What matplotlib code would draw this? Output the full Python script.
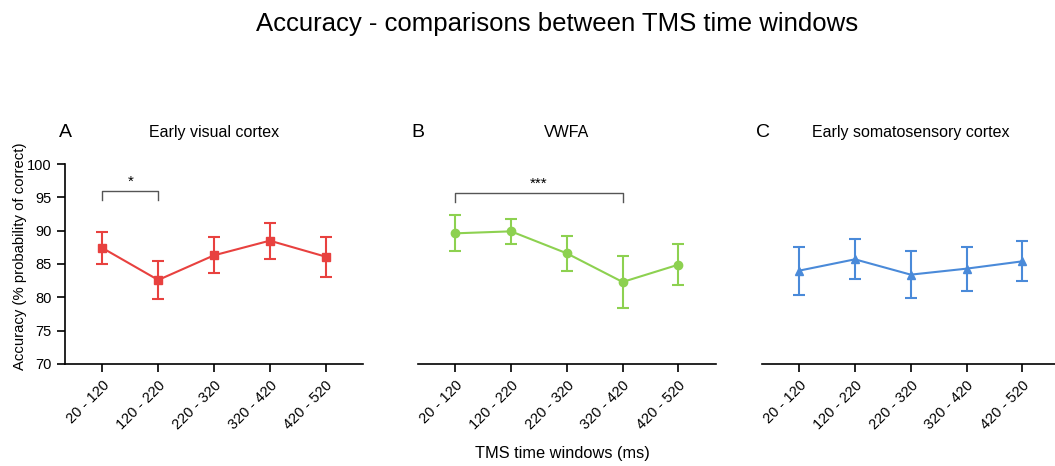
import matplotlib
matplotlib.use('Agg')
import matplotlib.pyplot as plt
import numpy as np

plt.rcParams['font.family'] = ['Liberation Sans', 'DejaVu Sans']

windows = ['20 - 120', '120 - 220', '220 - 320', '320 - 420', '420 - 520']
regions = ['Early visual cortex', 'VWFA', 'Early somatosensory cortex']
letters = ['A', 'B', 'C']

evc_mean = [87.4, 82.6, 86.3, 88.5, 86.1]
evc_err = [2.4, 2.8, 2.7, 2.7, 3.0]
vwfa_mean = [89.6, 89.9, 86.6, 82.3, 84.9]
vwfa_err = [2.7, 1.9, 2.6, 3.9, 3.1]
esc_mean = [84.0, 85.7, 83.4, 84.3, 85.4]
esc_err = [3.6, 3.0, 3.5, 3.3, 3.0]

means = [evc_mean, vwfa_mean, esc_mean]
errs = [evc_err, vwfa_err, esc_err]
colors = ['#e8413f', '#8dd150', '#4a8ad9']
markers = ['s', 'o', '^']

# significance: (panel, from, to, y, label)
sig = [(0, 0, 1, 95.95, '*'), (1, 0, 3, 95.7, '***')]

fig = plt.figure(figsize=(10.55, 4.66), dpi=100)
lefts = [0.0616, 0.396, 0.722]
axes = []
for i in range(3):
    ax = fig.add_axes([lefts[i], 0.219, 0.2825, 0.429])
    x = np.arange(len(windows))
    ax.errorbar(x, means[i], yerr=errs[i], color=colors[i], marker=markers[i],
                markersize=6, lw=1.5, capsize=4, capthick=1.5, elinewidth=1.5)
    ax.set_xlim(-0.67, 4.67)
    ax.set_ylim(70, 100)
    ax.set_xticks(x)
    ax.set_xticklabels(windows, rotation=45, ha='right', rotation_mode='anchor', fontsize=10.5)
    for s in ['top', 'right']:
        ax.spines[s].set_visible(False)
    ax.spines['bottom'].set_linewidth(1.2)
    ax.tick_params(axis='x', length=6, width=1.2, pad=4)
    if i == 0:
        ax.spines['left'].set_linewidth(1.2)
        ax.set_yticks(np.arange(70, 101, 5))
        ax.tick_params(axis='y', length=6, width=1.2, labelsize=10.5)
    else:
        ax.spines['left'].set_visible(False)
        ax.set_yticks([])
    ax.text(-0.02, 1.16, letters[i], transform=ax.transAxes, fontsize=14, ha='left', va='center')
    ax.text(0.5, 1.16, regions[i], transform=ax.transAxes, fontsize=11.5, ha='center', va='center')
    ax.patch.set_alpha(0)
    axes.append(ax)

for p, a, b, y, lab in sig:
    ax = axes[p]
    ax.plot([a, a, b, b], [y - 1.35, y, y, y - 1.35], color='#555555', lw=1, clip_on=False)
    ax.text((a + b) / 2, y + 0.3, lab, ha='center', va='bottom', fontsize=11)

fig.text(0.528, 0.948, 'Accuracy - comparisons between TMS time windows', ha='center', va='center', fontsize=18.5)
fig.text(0.533, 0.026, 'TMS time windows (ms)', ha='center', va='center', fontsize=11.8)
fig.text(0.019, 0.45, 'Accuracy (% probability of correct)', rotation=90, ha='center', va='center', fontsize=10.7)

fig.savefig('out.png', dpi=100)
